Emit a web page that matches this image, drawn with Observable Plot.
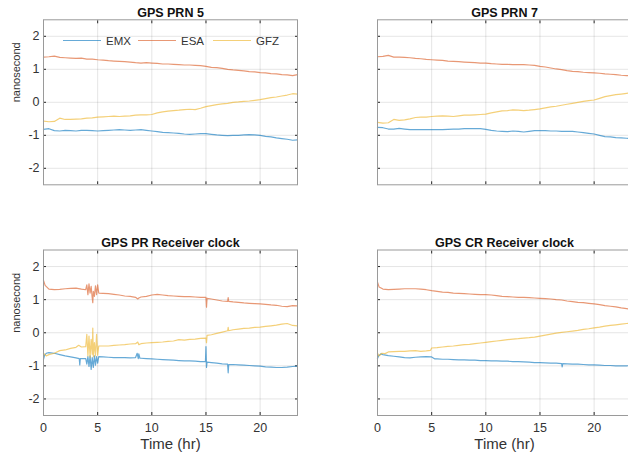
<!DOCTYPE html>
<html>
<head>
<meta charset="utf-8">
<script src="https://cdn.jsdelivr.net/npm/d3@7"></script>
<script src="https://cdn.jsdelivr.net/npm/@observablehq/plot@0.6"></script>
<style>
  html, body { margin: 0; padding: 0; background: #fff; overflow: hidden; }
  #fig { position: relative; width: 628px; height: 454px; overflow: hidden; background: #fff;
         font-family: "Liberation Sans", Arial, Helvetica, sans-serif; }
  .legend-item { position: absolute; height: 14px; }
  .legend-swatch { position: absolute; top: 6px; height: 1.2px; width: 38px; opacity: 0.6; }
  .legend-label { position: absolute; top: 0; left: 43px; font-size: 11.5px; line-height: 14px; color: #333; }
</style>
</head>
<body>
<div id="fig"></div>
<script>
// Clock estimates (ns) from three analysis centres over one day.
const seriesNames = ["EMX", "ESA", "GFZ"];
const seriesColors = ["#0072BD", "#D95319", "#EDB120"];
const xTicks = [0, 5, 10, 15, 20];
const yTicks = [-2, -1, 0, 1, 2];

// Half-hour sampling used by the satellite clock panels
const hours = [0, 0.5, 1, 1.5, 2, 2.5, 3, 3.5, 4, 4.5, 5, 5.5, 6, 6.5, 7, 7.5, 8, 8.5, 9, 9.5,
  10, 10.5, 11, 11.5, 12, 12.5, 13, 13.5, 14, 14.5, 15, 15.5, 16, 16.5, 17, 17.5, 18, 18.5, 19, 19.5,
  20, 20.5, 21, 21.5, 22, 22.5, 23, 23.45];

// GPS PRN 5
const prn5EMX = [-0.82, -0.80, -0.86, -0.87, -0.85, -0.86, -0.87, -0.85, -0.85, -0.86,
  -0.87, -0.86, -0.85, -0.84, -0.83, -0.84, -0.85, -0.84, -0.83, -0.85,
  -0.87, -0.89, -0.91, -0.92, -0.93, -0.94, -0.96, -0.97, -0.96, -0.95,
  -0.95, -0.97, -0.99, -1.00, -1.01, -1.00, -1.00, -0.99, -0.98, -0.99,
  -1.00, -1.03, -1.05, -1.08, -1.10, -1.12, -1.15, -1.14];
const prn5ESA = [1.37, 1.38, 1.40, 1.36, 1.35, 1.34, 1.33, 1.34, 1.31, 1.31,
  1.29, 1.28, 1.26, 1.25, 1.24, 1.23, 1.22, 1.20, 1.19, 1.20,
  1.19, 1.18, 1.16, 1.16, 1.15, 1.14, 1.13, 1.13, 1.12, 1.11,
  1.09, 1.06, 1.05, 1.03, 1.00, 0.98, 0.97, 0.95, 0.93, 0.92,
  0.90, 0.89, 0.87, 0.86, 0.84, 0.83, 0.81, 0.84];
const prn5GFZ = [-0.57, -0.59, -0.58, -0.48, -0.52, -0.52, -0.51, -0.50, -0.48, -0.47,
  -0.45, -0.44, -0.43, -0.42, -0.43, -0.42, -0.41, -0.39, -0.38, -0.38,
  -0.37, -0.32, -0.29, -0.27, -0.25, -0.24, -0.22, -0.21, -0.22, -0.18,
  -0.13, -0.10, -0.07, -0.05, -0.03, 0.00, 0.01, 0.03, 0.04, 0.06,
  0.08, 0.11, 0.14, 0.16, 0.19, 0.22, 0.26, 0.25];

// GPS PRN 7
const prn7EMX = [-0.76, -0.77, -0.81, -0.81, -0.79, -0.81, -0.83, -0.83, -0.83, -0.83,
  -0.83, -0.83, -0.83, -0.82, -0.81, -0.81, -0.80, -0.80, -0.80, -0.80,
  -0.82, -0.85, -0.87, -0.88, -0.89, -0.87, -0.88, -0.90, -0.88, -0.86,
  -0.86, -0.86, -0.87, -0.87, -0.88, -0.88, -0.88, -0.90, -0.92, -0.94,
  -0.96, -1.00, -1.04, -1.05, -1.07, -1.08, -1.09, -1.11];
const prn7ESA = [1.38, 1.39, 1.42, 1.37, 1.37, 1.36, 1.35, 1.33, 1.32, 1.30,
  1.29, 1.28, 1.27, 1.25, 1.24, 1.23, 1.22, 1.21, 1.20, 1.19,
  1.19, 1.17, 1.16, 1.15, 1.15, 1.14, 1.14, 1.14, 1.13, 1.12,
  1.09, 1.07, 1.04, 1.01, 0.99, 0.96, 0.94, 0.93, 0.91, 0.90,
  0.89, 0.88, 0.86, 0.85, 0.84, 0.82, 0.81, 0.80];
const prn7GFZ = [-0.61, -0.63, -0.62, -0.52, -0.55, -0.53, -0.50, -0.46, -0.45, -0.45,
  -0.43, -0.42, -0.41, -0.42, -0.43, -0.41, -0.39, -0.39, -0.38, -0.37,
  -0.36, -0.32, -0.29, -0.26, -0.25, -0.23, -0.24, -0.25, -0.24, -0.22,
  -0.20, -0.17, -0.14, -0.12, -0.09, -0.06, -0.03, 0.00, 0.03, 0.05,
  0.07, 0.12, 0.17, 0.20, 0.23, 0.25, 0.27, 0.29];

// GPS PR receiver clock: [hour, ns], denser around the jumps
const prEMX = [[0, -0.80], [0.1, -0.68], [0.25, -0.62], [0.5, -0.60], [1, -0.62], [1.5, -0.66], [2, -0.70],
  [2.5, -0.73], [3, -0.76], [3.3, -0.78], [3.35, -0.97], [3.4, -0.78], [3.9, -0.78],
  [4.0, -0.95], [4.1, -0.72], [4.2, -1.02], [4.3, -0.70], [4.4, -1.11], [4.5, -0.75], [4.6, -1.05],
  [4.7, -0.70], [4.8, -0.98], [4.9, -0.72], [5.0, -0.92], [5.1, -0.72],
  [5.5, -0.73], [6, -0.74], [6.5, -0.75], [7, -0.75], [7.5, -0.75], [8, -0.76], [8.5, -0.75],
  [8.65, -0.62], [8.75, -0.78], [8.8, -0.64], [8.9, -0.77], [9, -0.77], [9.5, -0.78], [10, -0.79],
  [10.5, -0.80], [11, -0.81], [11.5, -0.82], [12, -0.83], [12.5, -0.84], [13, -0.85], [13.5, -0.85],
  [14, -0.86], [14.5, -0.87], [14.95, -0.87], [15.0, -0.42], [15.05, -1.05], [15.1, -0.89],
  [15.5, -0.90], [16, -0.92], [16.5, -0.94], [17, -0.95], [17.05, -1.21], [17.1, -0.96], [17.5, -0.96],
  [18, -0.97], [18.5, -0.98], [19, -0.99], [19.5, -1.00], [20, -1.01], [20.5, -1.03], [21, -1.04],
  [21.5, -1.05], [22, -1.05], [22.5, -1.04], [23, -1.02], [23.45, -1.01]];
const prESA = [[0, 1.58], [0.15, 1.43], [0.5, 1.32], [1, 1.30], [1.5, 1.31], [2, 1.33], [2.5, 1.34],
  [3, 1.35], [3.5, 1.32], [3.9, 1.30],
  [4.0, 1.45], [4.1, 1.15], [4.2, 1.48], [4.3, 1.20], [4.4, 1.40], [4.5, 1.05], [4.55, 0.91],
  [4.6, 1.25], [4.7, 1.10], [4.8, 1.42], [4.9, 1.15], [5.0, 1.45], [5.1, 1.20],
  [5.5, 1.19], [6, 1.18], [6.5, 1.16], [7, 1.14], [7.5, 1.11], [8, 1.10], [8.5, 1.07], [8.7, 1.02],
  [8.8, 1.05], [9, 1.08], [9.5, 1.10], [10, 1.14], [10.5, 1.16], [11, 1.14], [11.5, 1.12], [12, 1.11],
  [12.5, 1.10], [13, 1.09], [13.5, 1.09], [14, 1.08], [14.5, 1.07], [15, 1.07], [15.05, 0.77],
  [15.1, 1.04], [15.5, 1.02], [16, 0.99], [16.5, 0.96], [17, 0.95], [17.05, 1.06], [17.1, 0.95],
  [17.5, 0.93], [18, 0.92], [18.5, 0.90], [19, 0.89], [19.5, 0.88], [20, 0.87], [20.5, 0.86],
  [21, 0.84], [21.5, 0.83], [22, 0.80], [22.5, 0.79], [23, 0.82], [23.45, 0.81]];
const prGFZ = [[0, -0.62], [0.25, -0.70], [0.5, -0.66], [1, -0.62], [1.5, -0.54], [2, -0.52], [2.5, -0.47],
  [3, -0.44], [3.25, -0.38], [3.5, -0.43], [3.9, -0.42],
  [4.0, -0.05], [4.1, -0.70], [4.2, -0.10], [4.3, -0.75], [4.4, -0.20], [4.5, -0.65], [4.55, 0.14],
  [4.6, -0.72], [4.7, -0.30], [4.8, -0.70], [4.9, -0.05], [5.0, -0.68], [5.1, -0.40],
  [5.5, -0.40], [6, -0.40], [6.5, -0.38], [7, -0.37], [7.5, -0.36], [8, -0.34], [8.5, -0.33],
  [8.7, -0.28], [8.8, -0.36], [9, -0.33], [9.5, -0.31], [10, -0.30], [10.5, -0.29], [11, -0.28],
  [11.5, -0.26], [12, -0.25], [12.5, -0.21], [13, -0.22], [13.5, -0.20], [14, -0.19], [14.5, -0.17],
  [15, -0.16], [15.05, -0.30], [15.1, -0.08], [15.5, -0.06], [16, -0.02], [16.5, 0.02], [17, 0.06],
  [17.05, 0.16], [17.1, 0.06], [17.5, 0.09], [18, 0.11], [18.5, 0.13], [19, 0.14], [19.5, 0.16],
  [20, 0.17], [20.5, 0.19], [21, 0.21], [21.5, 0.23], [22, 0.26], [22.5, 0.28], [23, 0.22], [23.45, 0.21]];

// GPS CR receiver clock: [hour, ns]
const crEMX = [[0, -0.78], [0.1, -0.70], [0.3, -0.64], [0.5, -0.66], [1, -0.69], [1.5, -0.71], [2, -0.73],
  [2.5, -0.75], [3, -0.76], [3.5, -0.74], [4, -0.73], [4.5, -0.72], [5, -0.73], [5.3, -0.79],
  [5.5, -0.79], [6, -0.80], [6.5, -0.80], [7, -0.81], [7.5, -0.82], [8, -0.82], [8.5, -0.83], [9, -0.83],
  [9.5, -0.84], [10, -0.84], [10.5, -0.85], [11, -0.85], [11.5, -0.86], [12, -0.86], [12.5, -0.87],
  [13, -0.87], [13.5, -0.88], [14, -0.89], [14.5, -0.90], [15, -0.90], [15.5, -0.91], [16, -0.92],
  [16.5, -0.92], [17, -0.93], [17.05, -1.03], [17.1, -0.93], [17.5, -0.94], [18, -0.95], [18.5, -0.95],
  [19, -0.96], [19.5, -0.97], [20, -0.97], [20.5, -0.98], [21, -0.99], [21.5, -0.99], [22, -1.00],
  [22.5, -1.00], [23, -1.00], [23.45, -0.99]];
const crESA = [[0, 1.53], [0.15, 1.38], [0.5, 1.32], [1, 1.30], [1.5, 1.31], [2, 1.32], [2.5, 1.33],
  [3, 1.33], [3.5, 1.33], [4, 1.32], [4.5, 1.30], [5, 1.27], [5.5, 1.25], [6, 1.23], [6.5, 1.22],
  [7, 1.20], [7.5, 1.19], [8, 1.18], [8.5, 1.17], [9, 1.16], [9.5, 1.15], [10, 1.15], [10.5, 1.14],
  [11, 1.12], [11.5, 1.10], [12, 1.09], [12.5, 1.08], [13, 1.07], [13.5, 1.07], [14, 1.06], [14.5, 1.05],
  [15, 1.04], [15.5, 1.03], [16, 1.02], [16.5, 1.00], [17, 0.99], [17.5, 0.96], [18, 0.94], [18.5, 0.92],
  [19, 0.91], [19.5, 0.89], [20, 0.87], [20.5, 0.85], [21, 0.82], [21.5, 0.80], [22, 0.78], [22.5, 0.75],
  [23, 0.73], [23.45, 0.71]];
const crGFZ = [[0, -0.62], [0.15, -0.70], [0.4, -0.62], [0.7, -0.63], [1, -0.58], [1.5, -0.57], [2, -0.56],
  [2.5, -0.56], [3, -0.55], [3.5, -0.54], [4, -0.56], [4.5, -0.55], [4.9, -0.53], [5, -0.46], [5.5, -0.45],
  [6, -0.43], [6.5, -0.41], [7, -0.40], [7.5, -0.38], [8, -0.36], [8.5, -0.35], [9, -0.33], [9.5, -0.31],
  [10, -0.29], [10.5, -0.27], [11, -0.25], [11.5, -0.23], [12, -0.21], [12.5, -0.19], [13, -0.18],
  [13.5, -0.16], [14, -0.15], [14.5, -0.13], [15, -0.10], [15.5, -0.07], [16, -0.04], [16.5, -0.01],
  [17, 0.01], [17.5, 0.03], [18, 0.05], [18.5, 0.07], [19, 0.10], [19.5, 0.12], [20, 0.15], [20.5, 0.17],
  [21, 0.20], [21.5, 0.22], [22, 0.24], [22.5, 0.26], [23, 0.28], [23.45, 0.29]];

const zipHours = (vals) => vals.map((v, i) => [hours[i], v]);

const panels = [
  {title: "GPS PRN 5", data: [zipHours(prn5EMX), zipHours(prn5ESA), zipHours(prn5GFZ)],
   left: 0, top: 0, width: 314, mL: 43, mR: 17, mT: 19.3, mB: 42.7, xLabels: false, yLabels: true},
  {title: "GPS PRN 7", data: [zipHours(prn7EMX), zipHours(prn7ESA), zipHours(prn7GFZ)],
   left: 314, top: 0, width: 320, mL: 63, mR: 3, mT: 19.3, mB: 42.7, xLabels: false, yLabels: false},
  {title: "GPS PR Receiver clock", data: [prEMX, prESA, prGFZ],
   left: 0, top: 227, width: 314, mL: 43, mR: 17, mT: 22.5, mB: 39, xLabels: true, yLabels: true},
  {title: "GPS CR Receiver clock", data: [crEMX, crESA, crGFZ],
   left: 314, top: 227, width: 320, mL: 63, mR: 3, mT: 22.5, mB: 39, xLabels: true, yLabels: false}
];

const fig = document.getElementById("fig");
const axisInk = "#262626";
const labelInk = "#333";

for (const p of panels) {
  const marks = [
    Plot.gridX(xTicks, {stroke: axisInk, strokeOpacity: 0.12}),
    Plot.gridY(yTicks, {stroke: axisInk, strokeOpacity: 0.12}),
    // inward tick marks on all four sides
    Plot.axisX({ticks: xTicks, anchor: "bottom", tickSize: 3, dy: -3, tickFormat: () => "", label: null, stroke: axisInk}),
    Plot.axisX({ticks: xTicks, anchor: "top", tickSize: 3, dy: 3, tickFormat: () => "", label: null, stroke: axisInk}),
    Plot.axisY({ticks: yTicks, anchor: "left", tickSize: 3, dx: 3, tickFormat: () => "", label: null, stroke: axisInk}),
    Plot.axisY({ticks: yTicks, anchor: "right", tickSize: 3, dx: -3, tickFormat: () => "", label: null, stroke: axisInk})
  ];
  if (p.xLabels) {
    marks.push(Plot.axisX({ticks: xTicks, anchor: "bottom", tickSize: 0, tickPadding: 7.5, tickFormat: (d) => String(d),
      label: null, fontSize: 12.5, fill: labelInk}));
    marks.push(Plot.text(["Time (hr)"], {text: (d) => d, frameAnchor: "bottom", dy: 28.5, lineAnchor: "middle",
      fontSize: 15, fill: labelInk}));
  }
  if (p.yLabels) {
    marks.push(Plot.axisY({ticks: yTicks, anchor: "left", tickSize: 0, tickPadding: 4, tickFormat: (d) => String(d),
      label: null, fontSize: 12.5, fill: labelInk}));
    marks.push(Plot.text(["nanosecond"], {text: (d) => d, frameAnchor: "left", rotate: -90, dx: -27,
      lineAnchor: "middle", fontSize: 11, fill: labelInk}));
  }
  p.data.forEach((rows, i) => {
    marks.push(Plot.line(rows, {x: (d) => d[0], y: (d) => d[1], stroke: seriesColors[i],
      strokeWidth: 1.2, strokeOpacity: 0.6}));
  });
  marks.push(Plot.frame({stroke: "#9a9a9a", strokeWidth: 1}));
  marks.push(Plot.text([p.title], {text: (d) => d, frameAnchor: "top", dy: -7, lineAnchor: "middle",
    fontWeight: "bold", fontSize: 12.5, fill: "#111"}));

  const svg = Plot.plot({
    width: p.width,
    height: 227,
    marginLeft: p.mL,
    marginRight: p.mR,
    marginTop: p.mT,
    marginBottom: p.mB,
    x: {domain: [0, 23.45]},
    y: {domain: [-2.5, 2.5]},
    style: {fontFamily: "'Liberation Sans', Arial, Helvetica, sans-serif", fontSize: "12px", color: axisInk,
      background: "transparent", maxWidth: "none", overflow: "visible"},
    marks
  });
  svg.style.position = "absolute";
  svg.style.left = p.left + "px";
  svg.style.top = p.top + "px";
  fig.appendChild(svg);
}

// Legend inside the first panel
const legendPos = [63, 138, 213];
seriesNames.forEach((name, i) => {
  const item = document.createElement("div");
  item.className = "legend-item";
  item.style.left = legendPos[i] + "px";
  item.style.top = "34px";
  const sw = document.createElement("div");
  sw.className = "legend-swatch";
  sw.style.background = seriesColors[i];
  const lab = document.createElement("div");
  lab.className = "legend-label";
  lab.textContent = name;
  item.appendChild(sw);
  item.appendChild(lab);
  fig.appendChild(item);
});
</script>
</body>
</html>
